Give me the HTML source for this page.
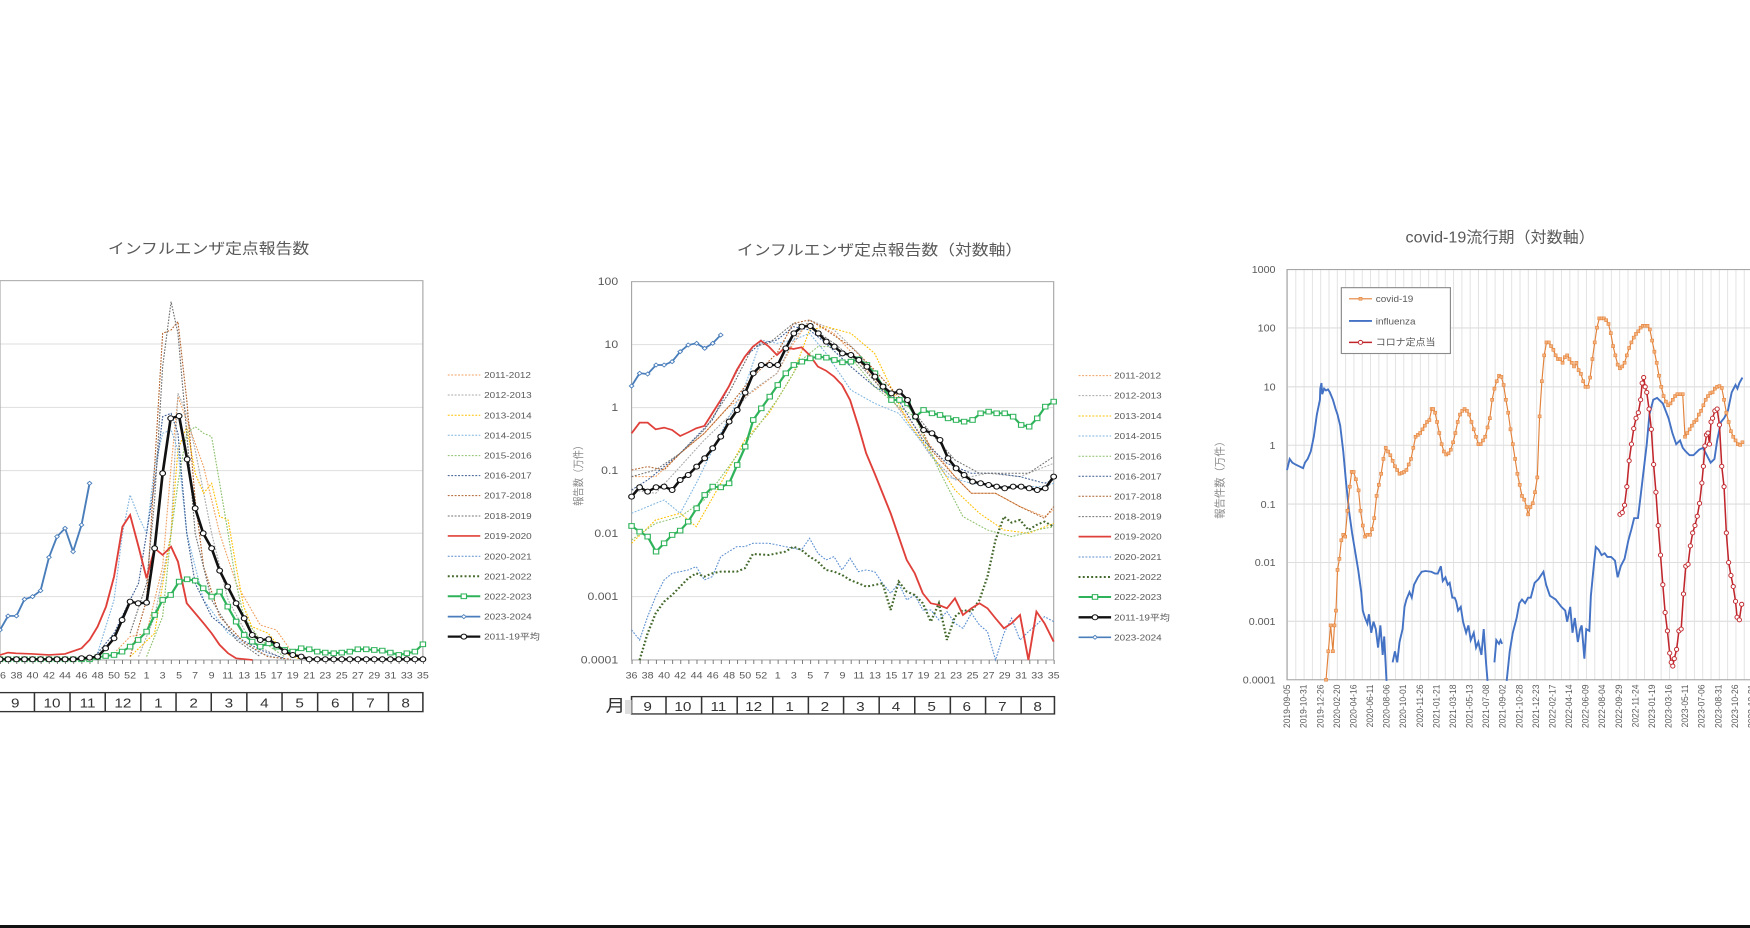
<!DOCTYPE html>
<html><head><meta charset="utf-8"><style>
html,body{margin:0;padding:0;background:#fff;}
svg{display:block}
text{font-family:"Liberation Sans","Noto Sans CJK JP",sans-serif;fill:#595959}
</style></head><body>
<svg width="1750" height="928" viewBox="0 0 1750 928" xmlns="http://www.w3.org/2000/svg">
<defs>
<marker id="mBlk" markerUnits="userSpaceOnUse" markerWidth="22" markerHeight="22" refX="11" refY="11"><circle cx="11" cy="11" r="7.5" fill="#fff" stroke="#111" stroke-width="3"/></marker>
<marker id="mGrn" markerUnits="userSpaceOnUse" markerWidth="22" markerHeight="22" refX="11" refY="11"><rect x="4" y="4" width="14" height="14" fill="#fff" stroke="#2fb35a" stroke-width="3"/></marker>
<marker id="mBlu" markerUnits="userSpaceOnUse" markerWidth="18" markerHeight="18" refX="9" refY="9"><path d="M9 3 L15 9 L9 15 L3 9Z" fill="#fff" stroke="#4a7ebb" stroke-width="2.5"/></marker>
<marker id="mOr" markerUnits="userSpaceOnUse" markerWidth="12" markerHeight="12" refX="6" refY="6"><rect x="2" y="2" width="8" height="8" fill="#f6b27c" stroke="#e2813a" stroke-width="1.5"/></marker>
<marker id="mRed" markerUnits="userSpaceOnUse" markerWidth="16" markerHeight="16" refX="8" refY="8"><circle cx="8" cy="8" r="5.5" fill="#fff" stroke="#c0262c" stroke-width="2.5"/></marker>
</defs>

<!-- ================= CHART 1 ================= -->
<g transform="translate(0,200) scale(0.3827,0.3333)">
<text x="545" y="160" font-size="44" text-anchor="middle">インフルエンザ定点報告数</text>
<g stroke="#dedede" stroke-width="3">
<line x1="0" y1="432" x2="1105" y2="432"/><line x1="0" y1="622" x2="1105" y2="622"/>
<line x1="0" y1="812" x2="1105" y2="812"/><line x1="0" y1="1000" x2="1105" y2="1000"/>
<line x1="0" y1="1190" x2="1105" y2="1190"/>
</g>
<rect x="0" y="242" width="1105" height="1138" fill="none" stroke="#a6a6a6" stroke-width="3"/>
<line x1="0" y1="1386" x2="1108" y2="1386" stroke="#777" stroke-width="12" stroke-dasharray="2.5 18.76"/>
<g fill="none" stroke-width="3" stroke-dasharray="5 4">
<polyline stroke="#f0a060" points="298,1360 340,1310 383,1300 425,1100 447,800 465,590 488,660 532,800 574,1000 617,1150 680,1275 722,1290 765,1360 808,1378"/>
<polyline stroke="#a8a8a8" points="362,1370 404,1250 447,1000 465,580 488,640 510,750 553,1000 596,1200 658,1330 743,1378"/>
<polyline stroke="#ffc000" points="340,1370 404,1300 447,1000 465,750 488,680 510,820 532,880 553,850 574,950 596,960 617,1100 637,1220 658,1280 701,1300 743,1360 786,1378"/>
<polyline stroke="#7fb5e0" points="255,1360 298,1200 320,1000 340,885 362,950 383,1000 404,800 425,700 447,690 465,750 488,1000 532,1200 596,1300 680,1360 740,1378"/>
<polyline stroke="#8cc06a" points="383,1370 425,1250 447,1000 465,850 488,700 510,680 532,700 553,710 574,850 596,1000 617,1150 637,1250 680,1320 743,1370"/>
<polyline stroke="#3a5a90" points="255,1360 298,1300 340,1200 362,1150 383,1000 404,850 425,650 447,640 465,700 488,1000 510,1150 553,1250 617,1310 680,1350 743,1375"/>
<polyline stroke="#b0602a" points="340,1370 383,1200 404,800 425,400 447,390 465,365 488,600 510,900 532,1100 574,1250 640,1330 700,1370 760,1378"/>
<polyline stroke="#707070" points="340,1300 383,1150 404,900 425,500 447,305 465,400 488,700 510,1000 553,1200 617,1320 680,1370"/>
</g>
<polyline fill="none" stroke="#e0403a" stroke-width="5" points="0,1365 21,1358 42,1360 85,1362 127,1365 170,1362 213,1345 234,1320 255,1280 277,1220 298,1130 320,980 340,945 362,1040 383,1135 404,1045 425,1065 447,1040 465,1085 488,1210 510,1240 532,1270 553,1300 574,1335 596,1360 617,1375 660,1380"/>
<polyline fill="none" stroke="#2fb35a" stroke-width="6" marker-start="url(#mGrn)" marker-mid="url(#mGrn)" marker-end="url(#mGrn)" points="0,1378 21,1378 43,1378 64,1378 85,1378 106,1378 128,1378 149,1378 170,1378 191,1378 213,1378 234,1378 255,1372 276,1368 298,1365 319,1355 340,1340 361,1320 383,1295 404,1245 425,1200 446,1185 468,1145 489,1138 510,1142 531,1165 553,1190 574,1175 595,1220 617,1265 638,1305 659,1325 680,1340 702,1330 723,1340 744,1350 765,1355 787,1345 808,1348 829,1355 850,1358 872,1360 893,1358 914,1355 935,1348 957,1348 978,1350 999,1352 1020,1358 1042,1365 1063,1360 1084,1355 1105,1333"/>
<polyline fill="none" stroke="#111" stroke-width="7" marker-start="url(#mBlk)" marker-mid="url(#mBlk)" marker-end="url(#mBlk)" points="0,1378 21,1378 43,1378 64,1378 85,1378 106,1378 128,1378 149,1378 170,1378 191,1378 213,1375 234,1373 255,1370 276,1345 298,1315 319,1260 340,1205 361,1210 383,1208 404,1045 425,820 446,655 468,648 489,778 510,925 531,1000 553,1045 574,1112 595,1160 617,1210 638,1255 659,1305 680,1320 702,1318 723,1335 744,1355 765,1365 787,1370 808,1378 829,1378 850,1378 872,1378 893,1378 914,1378 935,1378 957,1378 978,1378 999,1378 1020,1378 1042,1378 1063,1378 1084,1378 1105,1378"/>
<polyline fill="none" stroke="#4a7ebb" stroke-width="5" marker-mid="url(#mBlu)" marker-end="url(#mBlu)" points="-15,1340 0,1290 21,1248 43,1248 64,1198 85,1190 106,1172 128,1072 149,1010 170,985 191,1055 213,975 234,850"/>
<g font-size="28" text-anchor="middle">
<text x="0" y="1436">36</text><text x="43" y="1436">38</text><text x="85" y="1436">40</text><text x="128" y="1436">42</text><text x="170" y="1436">44</text><text x="213" y="1436">46</text><text x="255" y="1436">48</text><text x="298" y="1436">50</text><text x="340" y="1436">52</text><text x="383" y="1436">1</text><text x="425" y="1436">3</text><text x="468" y="1436">5</text><text x="510" y="1436">7</text><text x="553" y="1436">9</text><text x="595" y="1436">11</text><text x="638" y="1436">13</text><text x="680" y="1436">15</text><text x="723" y="1436">17</text><text x="765" y="1436">19</text><text x="808" y="1436">21</text><text x="850" y="1436">23</text><text x="893" y="1436">25</text><text x="935" y="1436">27</text><text x="978" y="1436">29</text><text x="1020" y="1436">31</text><text x="1063" y="1436">33</text><text x="1105" y="1436">35</text>
</g>
<rect x="-5" y="1478" width="1110" height="57" fill="#fff" stroke="#333" stroke-width="4"/>
<g stroke="#333" stroke-width="4"><line x1="90" y1="1478" x2="90" y2="1535"/><line x1="183" y1="1478" x2="183" y2="1535"/><line x1="275" y1="1478" x2="275" y2="1535"/><line x1="368" y1="1478" x2="368" y2="1535"/><line x1="460" y1="1478" x2="460" y2="1535"/><line x1="552" y1="1478" x2="552" y2="1535"/><line x1="645" y1="1478" x2="645" y2="1535"/><line x1="737" y1="1478" x2="737" y2="1535"/><line x1="830" y1="1478" x2="830" y2="1535"/><line x1="922" y1="1478" x2="922" y2="1535"/><line x1="1015" y1="1478" x2="1015" y2="1535"/></g>
<g font-size="40" text-anchor="middle"><text x="40" y="1522" style="fill:#333">9</text><text x="136" y="1522" style="fill:#333">10</text><text x="229" y="1522" style="fill:#333">11</text><text x="321" y="1522" style="fill:#333">12</text><text x="414" y="1522" style="fill:#333">1</text><text x="506" y="1522" style="fill:#333">2</text><text x="598" y="1522" style="fill:#333">3</text><text x="691" y="1522" style="fill:#333">4</text><text x="783" y="1522" style="fill:#333">5</text><text x="876" y="1522" style="fill:#333">6</text><text x="968" y="1522" style="fill:#333">7</text><text x="1060" y="1522" style="fill:#333">8</text></g>
<g fill="none" stroke-width="3" stroke-dasharray="5 4">
<line x1="1170" y1="525" x2="1255" y2="525" stroke="#f0a060"/>
<line x1="1170" y1="585" x2="1255" y2="585" stroke="#a8a8a8"/>
<line x1="1170" y1="646" x2="1255" y2="646" stroke="#ffc000"/>
<line x1="1170" y1="706" x2="1255" y2="706" stroke="#7fb5e0"/>
<line x1="1170" y1="767" x2="1255" y2="767" stroke="#8cc06a"/>
<line x1="1170" y1="827" x2="1255" y2="827" stroke="#3a5a90"/>
<line x1="1170" y1="887" x2="1255" y2="887" stroke="#b0602a"/>
<line x1="1170" y1="948" x2="1255" y2="948" stroke="#707070"/>
<line x1="1170" y1="1069" x2="1255" y2="1069" stroke="#5b8ed0"/>
<line x1="1170" y1="1129" x2="1255" y2="1129" stroke="#43682b" stroke-width="6" stroke-dasharray="5 6"/>
</g>
<line x1="1170" y1="1008" x2="1255" y2="1008" stroke="#e0403a" stroke-width="5"/>
<polyline points="1170,1189 1212,1189 1255,1189" fill="none" stroke="#2fb35a" stroke-width="6" marker-mid="url(#mGrn)"/>
<polyline points="1170,1250 1212,1250 1255,1250" fill="none" stroke="#4a7ebb" stroke-width="5" marker-mid="url(#mBlu)"/>
<polyline points="1170,1310 1212,1310 1255,1310" fill="none" stroke="#111" stroke-width="7" marker-mid="url(#mBlk)"/>
<g font-size="26"><text x="1265" y="534">2011-2012</text><text x="1265" y="594">2012-2013</text><text x="1265" y="655">2013-2014</text><text x="1265" y="715">2014-2015</text><text x="1265" y="776">2015-2016</text><text x="1265" y="836">2016-2017</text><text x="1265" y="896">2017-2018</text><text x="1265" y="957">2018-2019</text><text x="1265" y="1017">2019-2020</text><text x="1265" y="1078">2020-2021</text><text x="1265" y="1138">2021-2022</text><text x="1265" y="1198">2022-2023</text><text x="1265" y="1259">2023-2024</text><text x="1265" y="1319">2011-19平均</text></g>
</g>

<!-- ================= CHART 2 ================= -->
<g transform="translate(560,200) scale(0.3827,0.3333)">
<text x="835" y="165" font-size="44" text-anchor="middle">インフルエンザ定点報告数（対数軸）</text>
<g stroke="#dedede" stroke-width="3">
<line x1="187" y1="434" x2="1290" y2="434"/><line x1="187" y1="623" x2="1290" y2="623"/><line x1="187" y1="812" x2="1290" y2="812"/><line x1="187" y1="1001" x2="1290" y2="1001"/><line x1="187" y1="1190" x2="1290" y2="1190"/>
</g>
<rect x="187" y="245" width="1103" height="1135" fill="none" stroke="#a6a6a6" stroke-width="3"/>
<line x1="187" y1="1386" x2="1293" y2="1386" stroke="#777" stroke-width="12" stroke-dasharray="2.5 18.71"/>
<g font-size="32" text-anchor="end"><text x="152" y="255">100</text><text x="152" y="444">10</text><text x="152" y="633">1</text><text x="152" y="822">0.1</text><text x="152" y="1011">0.01</text><text x="152" y="1200">0.001</text><text x="152" y="1390">0.0001</text></g>
<text transform="translate(58,820) rotate(-90)" font-size="28" text-anchor="middle" style="fill:#8a8a8a">報告数（万件）</text>
<g fill="none" stroke-width="3" stroke-dasharray="5 4">
<polyline stroke="#f0a060" points="187,830 250,830 314,760 377,700 440,620 504,575 567,520 610,430 652,360 716,400 780,480 843,570 906,650 970,740 1032,830 1075,880 1138,880 1202,920 1266,950 1290,930"/>
<polyline stroke="#a8a8a8" points="187,870 250,880 314,800 377,720 441,650 504,570 567,520 610,420 652,360 716,390 780,460 843,560 906,660 970,770 1032,840 1117,820 1202,830 1290,790"/>
<polyline stroke="#ffc000" points="187,1030 250,960 314,940 356,980 420,850 483,720 546,640 610,520 652,390 695,380 760,400 822,460 864,560 906,660 970,760 1032,870 1096,940 1160,990 1224,1000 1290,970"/>
<polyline stroke="#7fb5e0" points="187,940 229,920 272,900 314,940 356,850 420,700 483,560 525,420 567,430 610,420 652,400 695,460 760,570 822,610 885,640 948,730 1011,830 1075,850 1138,860 1202,860 1266,860 1290,850"/>
<polyline stroke="#8cc06a" points="187,1020 250,970 314,950 377,900 441,800 504,700 567,600 631,480 674,440 716,440 758,470 822,560 885,620 927,650 990,810 1053,950 1117,990 1180,1010 1245,990 1290,980"/>
<polyline stroke="#3a5a90" points="187,870 229,840 272,800 314,760 356,710 398,660 441,560 483,470 525,430 567,420 610,380 652,390 695,430 760,500 822,560 885,600 948,720 1011,790 1075,820 1138,820 1202,830 1266,850 1290,840"/>
<polyline stroke="#b0602a" points="187,810 229,800 272,810 314,760 377,700 441,620 504,530 567,460 610,370 652,360 695,390 760,440 822,510 885,590 927,640 970,750 1032,830 1075,880 1138,880 1202,920 1266,955 1290,920"/>
<polyline stroke="#707070" points="187,830 250,810 314,760 377,690 441,580 504,440 546,430 610,370 652,380 716,430 780,490 843,570 906,610 970,700 1032,780 1096,820 1160,820 1224,820 1290,770"/>
<polyline stroke="#5b8ed0" points="187,1290 208,1320 229,1250 250,1190 272,1140 293,1120 335,1110 356,1100 377,1140 398,1130 420,1070 441,1055 462,1040 483,1040 504,1030 546,1030 589,1040 631,1050 652,1015 674,1060 695,1080 716,1070 737,1110 758,1075 780,1115 800,1110 822,1115 843,1150 864,1180 885,1150 906,1200 927,1185 948,1230 969,1230 990,1260 1011,1235 1032,1270 1053,1285 1075,1240 1096,1275 1117,1295 1138,1380 1160,1300 1180,1255 1202,1320 1224,1295 1245,1275 1266,1250 1290,1265"/>
<polyline stroke="#43682b" stroke-width="6" stroke-dasharray="5 6" points="208,1380 229,1300 250,1240 272,1205 293,1185 314,1160 335,1135 356,1120 377,1130 398,1120 420,1115 462,1115 483,1105 504,1062 546,1065 589,1055 610,1040 631,1050 652,1070 674,1085 695,1110 716,1115 737,1125 758,1140 780,1150 800,1160 822,1155 843,1150 864,1230 885,1145 906,1175 927,1185 948,1210 969,1265 990,1210 1011,1320 1032,1250 1053,1230 1075,1235 1096,1200 1117,1130 1138,1020 1160,950 1180,968 1202,960 1224,990 1245,975 1266,965 1290,980"/>
</g>
<polyline fill="none" stroke="#e0403a" stroke-width="5" points="187,700 208,668 229,668 250,688 272,683 293,690 314,708 335,697 356,685 377,678 398,640 420,600 441,560 462,510 483,470 504,440 525,422 546,440 567,465 589,442 610,447 631,442 652,465 674,500 695,512 716,530 737,555 758,600 780,680 800,760 822,820 843,880 864,940 885,1010 906,1080 927,1120 948,1180 969,1210 990,1215 1011,1225 1032,1195 1053,1245 1075,1225 1096,1210 1117,1225 1138,1255 1160,1285 1180,1270 1202,1245 1224,1380 1245,1235 1266,1270 1290,1325"/>
<polyline fill="none" stroke="#2fb35a" stroke-width="6" marker-start="url(#mGrn)" marker-mid="url(#mGrn)" marker-end="url(#mGrn)" points="187,978 208,995 229,1010 251,1055 272,1030 293,1005 314,992 335,965 357,925 378,885 399,860 420,862 442,850 463,795 484,740 505,660 526,625 548,590 569,555 590,520 611,495 632,485 654,475 675,470 696,473 717,480 738,487 760,485 781,478 802,495 823,520 844,560 866,600 887,600 908,610 929,650 950,630 972,640 993,645 1014,655 1035,660 1056,665 1078,660 1099,640 1120,635 1141,640 1162,640 1184,650 1205,675 1226,680 1247,655 1268,620 1290,605"/>
<polyline fill="none" stroke="#111" stroke-width="7" marker-start="url(#mBlk)" marker-mid="url(#mBlk)" marker-end="url(#mBlk)" points="187,890 208,862 229,875 251,862 272,860 293,870 314,840 335,825 357,800 378,775 399,745 420,710 442,665 463,630 484,578 505,520 526,495 548,495 569,495 590,445 611,400 632,380 654,378 675,400 696,425 717,440 738,460 760,465 781,480 802,500 823,530 844,560 866,580 887,575 908,600 929,650 950,690 972,700 993,720 1014,775 1035,805 1056,825 1078,845 1099,850 1120,855 1141,860 1162,865 1184,860 1205,860 1226,865 1247,870 1268,865 1290,830"/>
<polyline fill="none" stroke="#4a7ebb" stroke-width="5" marker-start="url(#mBlu)" marker-mid="url(#mBlu)" marker-end="url(#mBlu)" points="187,558 208,520 229,522 251,495 272,495 293,485 314,455 335,435 357,430 378,445 399,430 420,405"/>
<g font-size="28" text-anchor="middle">
<text x="187" y="1436">36</text><text x="229" y="1436">38</text><text x="272" y="1436">40</text><text x="314" y="1436">42</text><text x="357" y="1436">44</text><text x="399" y="1436">46</text><text x="442" y="1436">48</text><text x="484" y="1436">50</text><text x="526" y="1436">52</text><text x="569" y="1436">1</text><text x="611" y="1436">3</text><text x="654" y="1436">5</text><text x="696" y="1436">7</text><text x="738" y="1436">9</text><text x="781" y="1436">11</text><text x="823" y="1436">13</text><text x="866" y="1436">15</text><text x="908" y="1436">17</text><text x="950" y="1436">19</text><text x="993" y="1436">21</text><text x="1035" y="1436">23</text><text x="1078" y="1436">25</text><text x="1120" y="1436">27</text><text x="1162" y="1436">29</text><text x="1205" y="1436">31</text><text x="1247" y="1436">33</text><text x="1290" y="1436">35</text>
</g>
<rect x="187" y="1490" width="1105" height="52" fill="#fff" stroke="#333" stroke-width="4"/>
<rect x="170" y="1500" width="17" height="42" fill="#ddd"/>
<g stroke="#333" stroke-width="4"><line x1="277" y1="1490" x2="277" y2="1542"/><line x1="370" y1="1490" x2="370" y2="1542"/><line x1="463" y1="1490" x2="463" y2="1542"/><line x1="556" y1="1490" x2="556" y2="1542"/><line x1="649" y1="1490" x2="649" y2="1542"/><line x1="741" y1="1490" x2="741" y2="1542"/><line x1="834" y1="1490" x2="834" y2="1542"/><line x1="927" y1="1490" x2="927" y2="1542"/><line x1="1020" y1="1490" x2="1020" y2="1542"/><line x1="1112" y1="1490" x2="1112" y2="1542"/><line x1="1205" y1="1490" x2="1205" y2="1542"/></g>
<g font-size="40" text-anchor="middle"><text x="145" y="1535" font-size="52" style="fill:#333">月</text><text x="229" y="1533" style="fill:#333">9</text><text x="321" y="1533" style="fill:#333">10</text><text x="414" y="1533" style="fill:#333">11</text><text x="506" y="1533" style="fill:#333">12</text><text x="600" y="1533" style="fill:#333">1</text><text x="692" y="1533" style="fill:#333">2</text><text x="785" y="1533" style="fill:#333">3</text><text x="878" y="1533" style="fill:#333">4</text><text x="971" y="1533" style="fill:#333">5</text><text x="1063" y="1533" style="fill:#333">6</text><text x="1156" y="1533" style="fill:#333">7</text><text x="1248" y="1533" style="fill:#333">8</text></g>
<g fill="none" stroke-width="3" stroke-dasharray="5 4">
<line x1="1355" y1="527" x2="1440" y2="527" stroke="#f0a060"/>
<line x1="1355" y1="587" x2="1440" y2="587" stroke="#a8a8a8"/>
<line x1="1355" y1="648" x2="1440" y2="648" stroke="#ffc000"/>
<line x1="1355" y1="708" x2="1440" y2="708" stroke="#7fb5e0"/>
<line x1="1355" y1="769" x2="1440" y2="769" stroke="#8cc06a"/>
<line x1="1355" y1="829" x2="1440" y2="829" stroke="#3a5a90"/>
<line x1="1355" y1="889" x2="1440" y2="889" stroke="#b0602a"/>
<line x1="1355" y1="950" x2="1440" y2="950" stroke="#707070"/>
<line x1="1355" y1="1071" x2="1440" y2="1071" stroke="#5b8ed0"/>
<line x1="1355" y1="1131" x2="1440" y2="1131" stroke="#43682b" stroke-width="6" stroke-dasharray="5 6"/>
</g>
<line x1="1355" y1="1010" x2="1440" y2="1010" stroke="#e0403a" stroke-width="5"/>
<polyline points="1355,1191 1398,1191 1440,1191" fill="none" stroke="#2fb35a" stroke-width="6" marker-mid="url(#mGrn)"/>
<polyline points="1355,1252 1398,1252 1440,1252" fill="none" stroke="#111" stroke-width="7" marker-mid="url(#mBlk)"/>
<polyline points="1355,1312 1398,1312 1440,1312" fill="none" stroke="#4a7ebb" stroke-width="5" marker-mid="url(#mBlu)"/>
<g font-size="26"><text x="1448" y="536">2011-2012</text><text x="1448" y="596">2012-2013</text><text x="1448" y="657">2013-2014</text><text x="1448" y="717">2014-2015</text><text x="1448" y="778">2015-2016</text><text x="1448" y="838">2016-2017</text><text x="1448" y="898">2017-2018</text><text x="1448" y="959">2018-2019</text><text x="1448" y="1019">2019-2020</text><text x="1448" y="1080">2020-2021</text><text x="1448" y="1140">2021-2022</text><text x="1448" y="1200">2022-2023</text><text x="1448" y="1261">2011-19平均</text><text x="1448" y="1321">2023-2024</text></g>
</g>

<!-- ================= CHART 3 ================= -->
<g transform="translate(1150,200) scale(0.3827,0.3699)">
<text x="915" y="115" font-size="42" text-anchor="middle">covid-19流行期（対数軸）</text>
<line x1="358" y1="742" x2="1570" y2="742" stroke="#e2e2e2" stroke-width="1109" stroke-dasharray="2.5 19.2"/>
<g stroke="#dedede" stroke-width="3">
<line x1="358" y1="346" x2="1570" y2="346"/><line x1="358" y1="505" x2="1570" y2="505"/><line x1="358" y1="663" x2="1570" y2="663"/><line x1="358" y1="822" x2="1570" y2="822"/><line x1="358" y1="980" x2="1570" y2="980"/><line x1="358" y1="1139" x2="1570" y2="1139"/>
</g>
<rect x="358" y="188" width="1300" height="1109" fill="none" stroke="#a6a6a6" stroke-width="3"/>
<g font-size="28" text-anchor="end"><text x="328" y="198">1000</text><text x="328" y="356">100</text><text x="328" y="515">10</text><text x="328" y="673">1</text><text x="328" y="832">0.1</text><text x="328" y="990">0.01</text><text x="328" y="1149">0.001</text><text x="328" y="1307">0.0001</text></g>
<text transform="translate(192,750) rotate(-90)" font-size="28" text-anchor="middle" style="fill:#8a8a8a">報告件数（万件）</text>
<polyline fill="none" stroke="#4472c4" stroke-width="5" points="358,730 365,700 372,710 380,715 390,720 400,725 405,710 412,700 420,680 428,640 436,580 444,540 445,510 448,495 450,525 455,510 460,515 465,512 470,520 478,540 485,565 490,580 497,610 505,680 512,760 520,840 528,900 536,950 544,1000 552,1060 556,1110 562,1130 568,1145 572,1120 578,1170 584,1140 590,1160 596,1210 602,1150 608,1230 612,1180 618,1300"/>
<polyline fill="none" stroke="#4472c4" stroke-width="5" points="634,1250 640,1220 646,1250 652,1195 660,1160 665,1100 670,1080 678,1060 684,1075 690,1040 700,1020 710,1005 720,1003 735,1005 745,1010 752,1010 760,990 765,1030 772,1020 778,1040 783,1035 790,1075 796,1075 800,1085 805,1110 812,1100 818,1140 826,1170 832,1150 838,1190 846,1170 852,1210 858,1195 866,1230 872,1160 878,1250 882,1300"/>
<polyline fill="none" stroke="#4472c4" stroke-width="5" points="900,1250 905,1190 912,1200 916,1190 920,1200"/>
<polyline fill="none" stroke="#4472c4" stroke-width="5" points="932,1300 940,1220 948,1170 958,1130 965,1090 972,1080 980,1090 988,1075 995,1075 1005,1035 1015,1025 1028,1005 1035,1040 1045,1070 1060,1080 1075,1100 1085,1110 1090,1140 1098,1100 1104,1170 1110,1130 1118,1195 1124,1160 1128,1150 1135,1240 1140,1160 1148,1165 1152,1070 1160,985 1165,938 1172,945 1180,960 1188,955 1195,965 1205,965 1215,975 1222,1020 1230,990 1240,970 1250,920 1258,890 1265,860 1275,860 1282,800 1290,730 1298,660 1305,580 1315,540 1325,535 1340,550 1355,590 1365,630 1375,660 1385,650 1392,670 1400,680 1410,690 1420,690 1435,675 1445,670 1455,690 1465,710 1475,700 1482,650 1492,600 1500,590 1510,570 1520,520 1530,500 1535,510 1540,495 1548,480"/>
<polyline fill="none" stroke="#e2813a" stroke-width="3" marker-start="url(#mOr)" marker-mid="url(#mOr)" marker-end="url(#mOr)" points="460,1297 466,1220 472,1150 478,1220 482,1150 486,1110 490,1000 495,970 500,920 505,905 510,910 516,840 522,775 527,735 532,735 538,755 545,785 550,840 556,880 562,910 568,905 575,905 580,890 586,860 592,800 598,770 604,740 610,700 616,670 622,680 628,690 634,705 640,720 646,730 652,740 658,738 664,735 670,730 676,715 682,700 688,670 694,640 700,635 706,630 712,620 718,610 724,600 730,595 736,565 740,565 745,575 750,600 756,630 762,660 768,680 774,688 780,685 786,675 792,655 798,630 804,600 810,580 816,570 822,565 828,570 834,580 840,600 846,620 852,640 858,660 864,660 870,650 876,640 882,615 888,590 894,540 900,510 906,490 912,475 918,478 924,500 930,540 936,575 942,620 948,660 954,700 960,740 966,770 972,800 978,810 984,830 988,850 994,830 1000,820 1006,790 1012,750 1018,585 1024,490 1030,420 1036,385 1042,385 1048,395 1054,405 1060,420 1066,430 1072,430 1078,440 1084,425 1090,420 1096,430 1102,440 1108,450 1114,440 1120,460 1126,470 1132,490 1138,505 1144,505 1150,480 1156,430 1162,385 1168,345 1174,320 1180,320 1186,320 1192,325 1198,335 1204,360 1210,395 1216,420 1222,445 1228,455 1234,450 1240,440 1246,420 1252,400 1258,385 1264,372 1270,362 1276,355 1282,345 1288,340 1294,340 1300,340 1306,350 1312,380 1318,410 1324,440 1330,475 1336,505 1342,530 1348,545 1354,555 1360,550 1366,540 1372,530 1378,525 1386,525 1392,525 1398,640 1404,630 1410,620 1416,610 1422,600 1428,595 1434,580 1440,570 1446,555 1452,540 1458,530 1464,522 1470,520 1476,510 1482,505 1488,503 1494,508 1500,540 1506,575 1512,600 1518,625 1524,640 1530,650 1536,660 1542,662 1548,655"/>
<polyline fill="none" stroke="#c0262c" stroke-width="4" marker-start="url(#mRed)" marker-mid="url(#mRed)" marker-end="url(#mRed)" points="1228,850 1234,845 1240,825 1246,775 1252,705 1258,660 1264,618 1270,590 1276,575 1282,540 1286,495 1290,480 1294,505 1298,520 1304,565 1310,620 1316,715 1322,790 1328,880 1334,960 1340,1040 1346,1115 1352,1165 1358,1225 1362,1250 1366,1260 1370,1240 1376,1215 1382,1165 1388,1160 1394,1065 1400,990 1406,985 1412,935 1418,900 1424,880 1430,855 1436,820 1442,765 1446,720 1450,665 1454,635 1458,630 1462,660 1466,600 1470,590 1476,570 1482,565 1488,608 1494,720 1500,775 1506,900 1512,980 1518,1015 1524,1045 1530,1085 1534,1128 1540,1135 1546,1093"/>
<rect x="500" y="237" width="285" height="178" fill="#fff" stroke="#8a8a8a" stroke-width="3"/>
<polyline points="520,267 550,267 580,267" fill="none" stroke="#e2813a" stroke-width="3" marker-mid="url(#mOr)"/>
<line x1="520" y1="327" x2="580" y2="327" stroke="#4472c4" stroke-width="5"/>
<polyline points="520,385 550,385 580,385" fill="none" stroke="#c0262c" stroke-width="4" marker-mid="url(#mRed)"/>
<g font-size="26"><text x="590" y="276">covid-19</text><text x="590" y="336">influenza</text><text x="590" y="394">コロナ定点当</text></g>
<g font-size="23" text-anchor="end">
<text transform="translate(366,1310) rotate(-90)">2019-09-05</text>
<text transform="translate(409,1310) rotate(-90)">2019-10-31</text>
<text transform="translate(453,1310) rotate(-90)">2019-12-26</text>
<text transform="translate(496,1310) rotate(-90)">2020-02-20</text>
<text transform="translate(539,1310) rotate(-90)">2020-04-16</text>
<text transform="translate(583,1310) rotate(-90)">2020-06-11</text>
<text transform="translate(626,1310) rotate(-90)">2020-08-06</text>
<text transform="translate(669,1310) rotate(-90)">2020-10-01</text>
<text transform="translate(713,1310) rotate(-90)">2020-11-26</text>
<text transform="translate(756,1310) rotate(-90)">2021-01-21</text>
<text transform="translate(799,1310) rotate(-90)">2021-03-18</text>
<text transform="translate(843,1310) rotate(-90)">2021-05-13</text>
<text transform="translate(886,1310) rotate(-90)">2021-07-08</text>
<text transform="translate(929,1310) rotate(-90)">2021-09-02</text>
<text transform="translate(973,1310) rotate(-90)">2021-10-28</text>
<text transform="translate(1016,1310) rotate(-90)">2021-12-23</text>
<text transform="translate(1059,1310) rotate(-90)">2022-02-17</text>
<text transform="translate(1103,1310) rotate(-90)">2022-04-14</text>
<text transform="translate(1146,1310) rotate(-90)">2022-06-09</text>
<text transform="translate(1189,1310) rotate(-90)">2022-08-04</text>
<text transform="translate(1233,1310) rotate(-90)">2022-09-29</text>
<text transform="translate(1276,1310) rotate(-90)">2022-11-24</text>
<text transform="translate(1319,1310) rotate(-90)">2023-01-19</text>
<text transform="translate(1363,1310) rotate(-90)">2023-03-16</text>
<text transform="translate(1406,1310) rotate(-90)">2023-05-11</text>
<text transform="translate(1449,1310) rotate(-90)">2023-07-06</text>
<text transform="translate(1493,1310) rotate(-90)">2023-08-31</text>
<text transform="translate(1536,1310) rotate(-90)">2023-10-26</text>
<text transform="translate(1579,1310) rotate(-90)">2023-12-21</text>
</g>
</g>

<rect x="0" y="925" width="1750" height="3" fill="#111"/>
</svg>
</body></html>
